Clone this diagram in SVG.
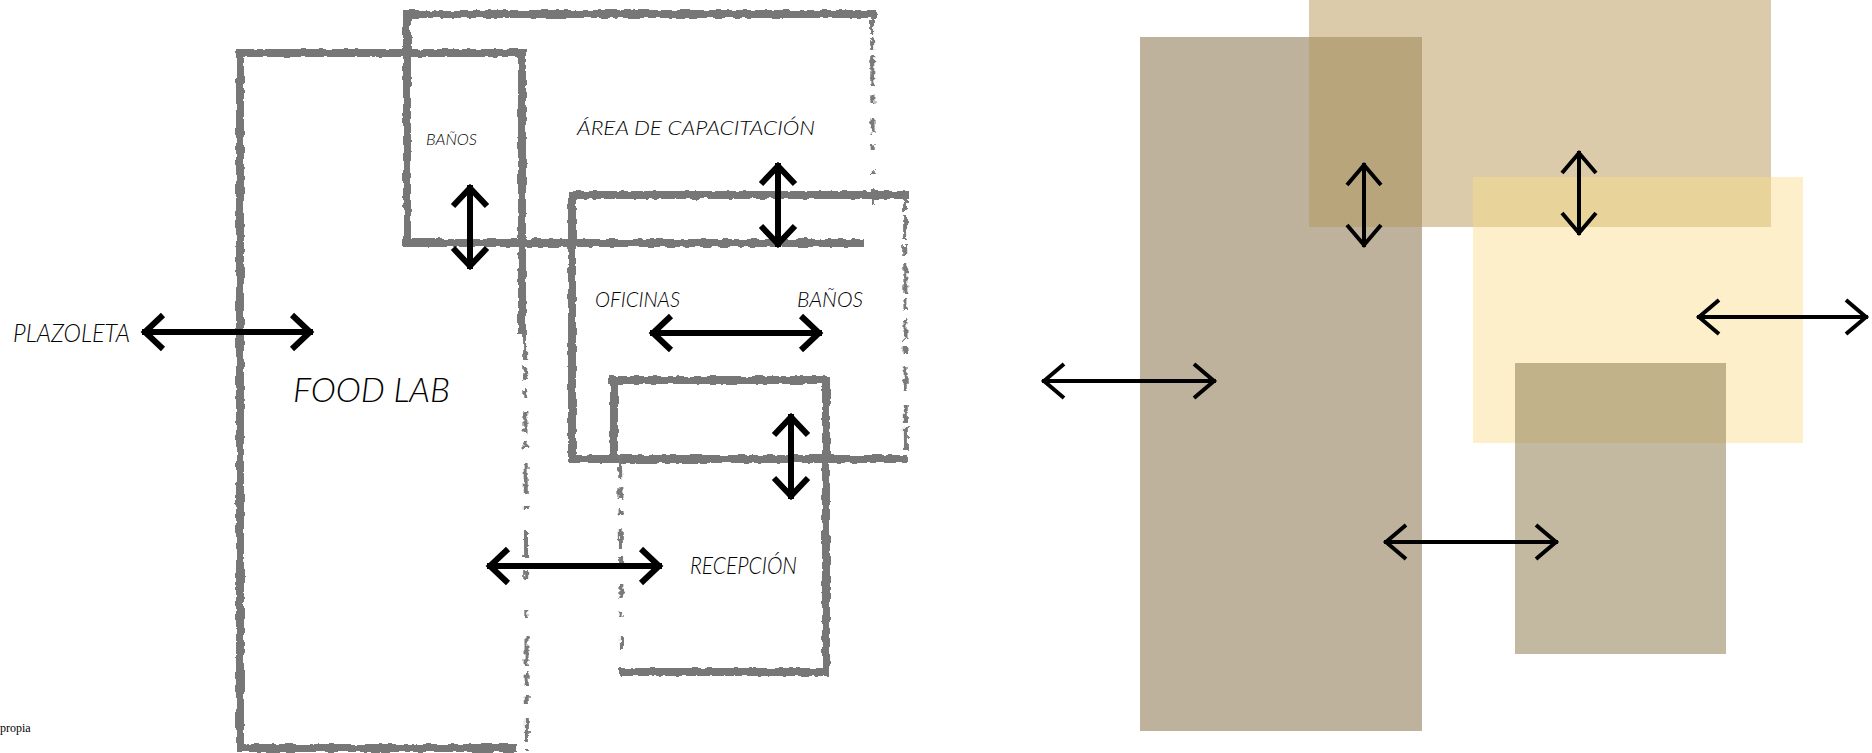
<svg xmlns="http://www.w3.org/2000/svg" width="1872" height="753" viewBox="0 0 1872 753">
<style>
.sk{fill:none;stroke:#777;stroke-width:8;stroke-linecap:square;filter:url(#rough)}
.skd{fill:none;stroke:#7a7a7a;stroke-width:4;stroke-linecap:butt;filter:url(#rough2)}
.lbl{font-family:Lato,"Open Sans","Liberation Sans",sans-serif;font-style:italic;font-weight:300;fill:#000}
.arL{fill:none;stroke:#000;stroke-width:6;marker-start:url(#hL);marker-end:url(#hL)}
.arR{fill:none;stroke:#000;stroke-width:4;marker-start:url(#hR);marker-end:url(#hR)}
</style>
<defs>
<filter id="rough" filterUnits="userSpaceOnUse" x="0" y="0" width="1000" height="753">
<feTurbulence type="fractalNoise" baseFrequency="0.12" numOctaves="2" seed="3" result="n"/>
<feDisplacementMap in="SourceGraphic" in2="n" scale="5" xChannelSelector="R" yChannelSelector="G"/>
</filter>
<filter id="rough2" filterUnits="userSpaceOnUse" x="0" y="0" width="1000" height="753">
<feTurbulence type="fractalNoise" baseFrequency="0.2" numOctaves="2" seed="7" result="n"/>
<feDisplacementMap in="SourceGraphic" in2="n" scale="7" xChannelSelector="R" yChannelSelector="G"/>
</filter>
<marker id="hL" markerUnits="userSpaceOnUse" orient="auto-start-reverse" refX="0" refY="0" markerWidth="60" markerHeight="60" viewBox="-30 -30 60 60" overflow="visible">
<path d="M-21,-17 L-3,0 L-21,17" fill="none" stroke="#000" stroke-width="6"/>
</marker>
<marker id="hR" markerUnits="userSpaceOnUse" orient="auto-start-reverse" refX="0" refY="0" markerWidth="60" markerHeight="60" viewBox="-30 -30 60 60" overflow="visible">
<path d="M-22,-17 L-2,0 L-22,17" fill="none" stroke="#000" stroke-width="4"/>
</marker>
</defs>
<rect width="1872" height="753" fill="#fff"/>

<!-- LEFT: sketch plan -->
<g id="food-lab">
<path class="sk" d="M240,53 L522,53 M240,53 L240,748 L512,748 M522,53 L522,330"/>
<path class="skd" d="M525,330 L527,750" stroke-dasharray="30 6 14 10 8 14 22 8 6 16 30 12 4 20 26 14 10 30 6 20"/>
<text class="lbl" x="293" y="402" font-size="34" textLength="157" lengthAdjust="spacingAndGlyphs">FOOD LAB</text>
</g>
<g id="capacitacion">
<path class="sk" d="M407,14 L872,14 M407,14 L407,243 L860,243"/>
<path class="skd" d="M872,14 L873,205" stroke-dasharray="20 4 12 6 30 8 10 14 16 10 6 20 4 14"/>
<text class="lbl" x="577" y="135" font-size="19" textLength="238" lengthAdjust="spacingAndGlyphs">ÁREA DE CAPACITACIÓN</text>
<text class="lbl" x="426" y="145" font-size="16" textLength="51" lengthAdjust="spacingAndGlyphs">BAÑOS</text>
</g>
<g id="oficinas">
<path class="sk" d="M572,195 L905,195 M572,195 L572,459 L902,459"/>
<path class="skd" d="M905,195 L906,462" stroke-dasharray="16 4 24 6 10 8 30 5 12 10 20 6 8 12 26 14"/>
<text class="lbl" x="595" y="307" font-size="21" textLength="85" lengthAdjust="spacingAndGlyphs">OFICINAS</text>
<text class="lbl" x="797" y="307" font-size="21" textLength="66" lengthAdjust="spacingAndGlyphs">BAÑOS</text>
</g>
<g id="recepcion">
<path class="sk" d="M612,380 L826,380 L826,672 L624,672 M614,380 L614,455"/>
<path class="skd" d="M620,455 L622,650" stroke-dasharray="24 8 12 10 6 14 20 8 10 18 14 12 6 20"/>
<text class="lbl" x="690" y="574" font-size="23" textLength="107" lengthAdjust="spacingAndGlyphs">RECEPCIÓN</text>
</g>
<g id="plazoleta">
<text class="lbl" x="13" y="342" font-size="26" textLength="117" lengthAdjust="spacingAndGlyphs">PLAZOLETA</text>
</g>
<text x="0" y="732" font-family="'Liberation Serif',serif" font-size="12" fill="#000">propia</text>

<!-- RIGHT: colour blocks -->
<g id="food-lab-block"><rect x="1140" y="37" width="282" height="694" fill="#beb29c"/></g>
<g id="capacitacion-block">
<rect x="1309" y="0" width="462" height="227" fill="#dbcbaa"/>
<rect x="1309" y="37" width="113" height="190" fill="#b9a57b"/>
</g>
<g id="oficinas-block">
<rect x="1473" y="177" width="330" height="266" fill="#fcefca"/>
<rect x="1473" y="177" width="298" height="50" fill="#e8d49a"/>
</g>
<g id="recepcion-block">
<rect x="1515" y="363" width="211" height="291" fill="#c3b8a0"/>
<rect x="1515" y="363" width="211" height="80" fill="#c1b289"/>
</g>

<g id="connectors">
<path class="arL" d="M142,332 L313,332"/>
<path class="arL" d="M470,185 L470,269"/>
<path class="arL" d="M778,163 L778,247"/>
<path class="arL" d="M650,333 L822,333"/>
<path class="arL" d="M791,414 L791,499"/>
<path class="arL" d="M487,566 L662,566"/>
<path class="arR" d="M1042,381 L1216,381"/>
<path class="arR" d="M1364,163 L1364,247"/>
<path class="arR" d="M1579,151 L1579,235"/>
<path class="arR" d="M1697,317 L1868,317"/>
<path class="arR" d="M1384,542 L1558,542"/>
</g>
</svg>
